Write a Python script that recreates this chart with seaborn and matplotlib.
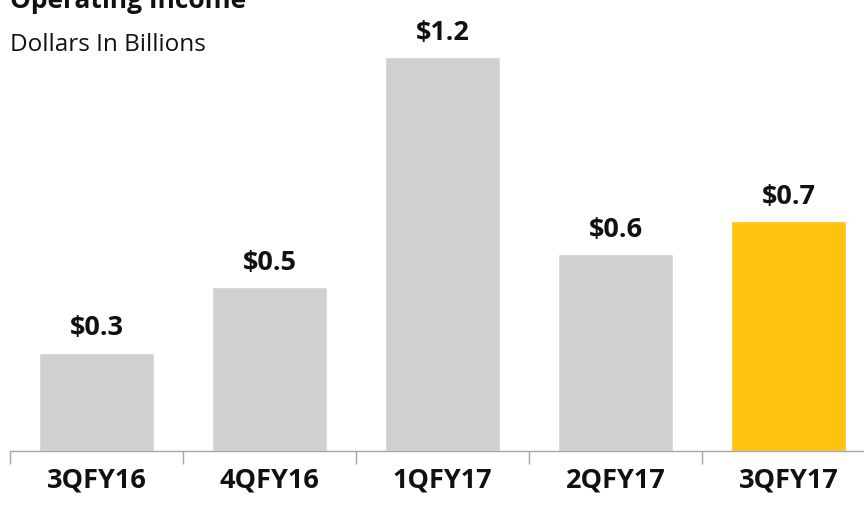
import matplotlib
matplotlib.use("Agg")
import matplotlib.pyplot as plt
import seaborn as sns
import numpy as np

quarters = ["3QFY16", "4QFY16", "1QFY17", "2QFY17", "3QFY17"]
income = [0.30, 0.50, 1.20, 0.60, 0.70]
labels = ["$0.3", "$0.5", "$1.2", "$0.6", "$0.7"]
colors = ["#D0D0D0", "#D0D0D0", "#D0D0D0", "#D0D0D0", "#FFC20E"]

sns.set_style("white")
plt.rcParams["font.family"] = ["Open Sans", "DejaVu Sans"]

fig = plt.figure(figsize=(8.64, 5.05), dpi=100)
ax = fig.add_axes([10 / 864, 54 / 505, 865 / 864, 451 / 505])

sns.barplot(x=quarters, y=income, hue=quarters, palette=colors, legend=False,
            width=0.67, saturation=1, ax=ax)

for i, (v, t) in enumerate(zip(income, labels)):
    ax.annotate(t, (i, v), xytext=(0, 8), textcoords="offset points",
                ha="center", va="bottom", fontsize=19.5, fontweight="bold", color="#111111")

ax.set_xlim(-0.5, 4.5)
ax.set_ylim(0, 1.374)
ax.set_yticks([])
for s in ["top", "right", "left"]:
    ax.spines[s].set_visible(False)
ax.spines["bottom"].set_color("#A6A6A6")
ax.spines["bottom"].set_linewidth(1)

ax.set_xticks(range(len(quarters)))
ax.set_xticklabels(quarters, fontsize=19.5, fontweight="bold", color="#111111")
ax.tick_params(axis="x", which="major", length=0, pad=12)
ax.set_xticks(np.arange(-0.5, 5, 1), minor=True)
ax.tick_params(axis="x", which="minor", bottom=True, length=9, color="#A6A6A6", width=1)

fig.text(10 / 864, 1 - 8 / 505, "Operating Income", fontsize=19, fontweight="bold",
         ha="left", va="baseline", color="#111111")
fig.text(10 / 864, 1 - 45 / 505, "Dollars In Billions", fontsize=17.5,
         ha="left", va="center", color="#111111")

fig.savefig("out.png", dpi=100)
